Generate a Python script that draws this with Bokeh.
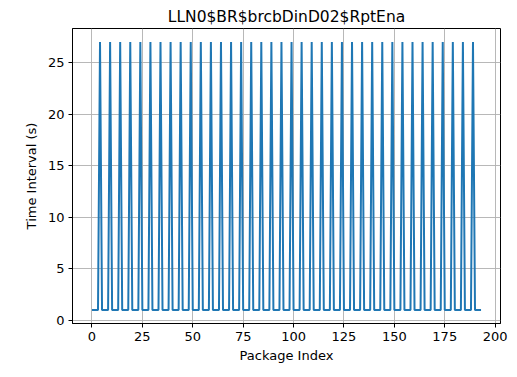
from bokeh.plotting import figure
from bokeh.models import FixedTicker, Range1d
from bokeh.embed import file_html
from bokeh.resources import INLINE

title = "LLN0$BR$brcbDinD02$RptEna"
x_label = "Package Index"
y_label = "Time Interval (s)"
x_ticks = [0, 25, 50, 75, 100, 125, 150, 175, 200]
y_ticks = [0, 5, 10, 15, 20, 25]

intervals = [
    1, 1, 1, 1, 27, 1, 1, 1, 1, 27, 1, 1, 1, 1, 27, 1, 1, 1, 1, 27,
    1, 1, 1, 1, 27, 1, 1, 1, 1, 27, 1, 1, 1, 1, 27, 1, 1, 1, 1, 27,
    1, 1, 1, 1, 27, 1, 1, 1, 1, 27, 1, 1, 1, 1, 27, 1, 1, 1, 1, 27,
    1, 1, 1, 1, 27, 1, 1, 1, 1, 27, 1, 1, 1, 1, 27, 1, 1, 1, 1, 27,
    1, 1, 1, 1, 27, 1, 1, 1, 1, 27, 1, 1, 1, 1, 27, 1, 1, 1, 1, 27,
    1, 1, 1, 1, 27, 1, 1, 1, 1, 27, 1, 1, 1, 1, 27, 1, 1, 1, 1, 27,
    1, 1, 1, 1, 27, 1, 1, 1, 1, 27, 1, 1, 1, 1, 27, 1, 1, 1, 1, 27,
    1, 1, 1, 1, 27, 1, 1, 1, 1, 27, 1, 1, 1, 1, 27, 1, 1, 1, 1, 27,
    1, 1, 1, 1, 27, 1, 1, 1, 1, 27, 1, 1, 1, 1, 27, 1, 1, 1, 1, 27,
    1, 1, 1, 1, 27, 1, 1, 1, 1, 27,
    1, 1, 1, 1,
]
index = list(range(len(intervals)))

FONT = "DejaVu Sans"

p = figure(width=517, height=377, output_backend="svg", toolbar_location=None,
           x_range=Range1d(-9.65, 202.65), y_range=Range1d(-0.3, 28.3),
           min_border_left=72, min_border_right=17, min_border_top=28, min_border_bottom=54)

p.line(index, intervals, line_color="#1f77b4", line_width=2)

p.title.text = title
p.title.align = "center"
p.title.text_font = FONT
p.title.text_font_style = "normal"
p.title.text_font_size = "15.5px"
p.title.text_color = "black"
p.title.standoff = 5

p.outline_line_color = "black"
p.outline_line_width = 1
p.background_fill_color = "white"
p.border_fill_color = "white"

for ax in (p.xaxis[0], p.yaxis[0]):
    ax.axis_line_color = "black"
    ax.major_tick_line_color = "black"
    ax.major_tick_out = 4
    ax.major_tick_in = 0
    ax.minor_tick_line_color = None
    ax.major_label_text_font = FONT
    ax.major_label_text_font_size = "13px"
    ax.major_label_text_color = "black"
    ax.axis_label_text_font = FONT
    ax.axis_label_text_font_size = "13px"
    ax.axis_label_text_font_style = "normal"
    ax.axis_label_text_color = "black"

p.xaxis[0].ticker = FixedTicker(ticks=x_ticks)
p.yaxis[0].ticker = FixedTicker(ticks=y_ticks)
p.xaxis[0].axis_label = x_label
p.yaxis[0].axis_label = y_label
p.xaxis[0].major_label_standoff = 4
p.yaxis[0].major_label_standoff = 4
p.xaxis[0].axis_label_standoff = 4
p.yaxis[0].axis_label_standoff = 6

for g in (p.xgrid[0], p.ygrid[0]):
    g.grid_line_color = "#b0b0b0"
    g.grid_line_width = 0.9

open("out.html", "w").write(file_html(p, INLINE))
